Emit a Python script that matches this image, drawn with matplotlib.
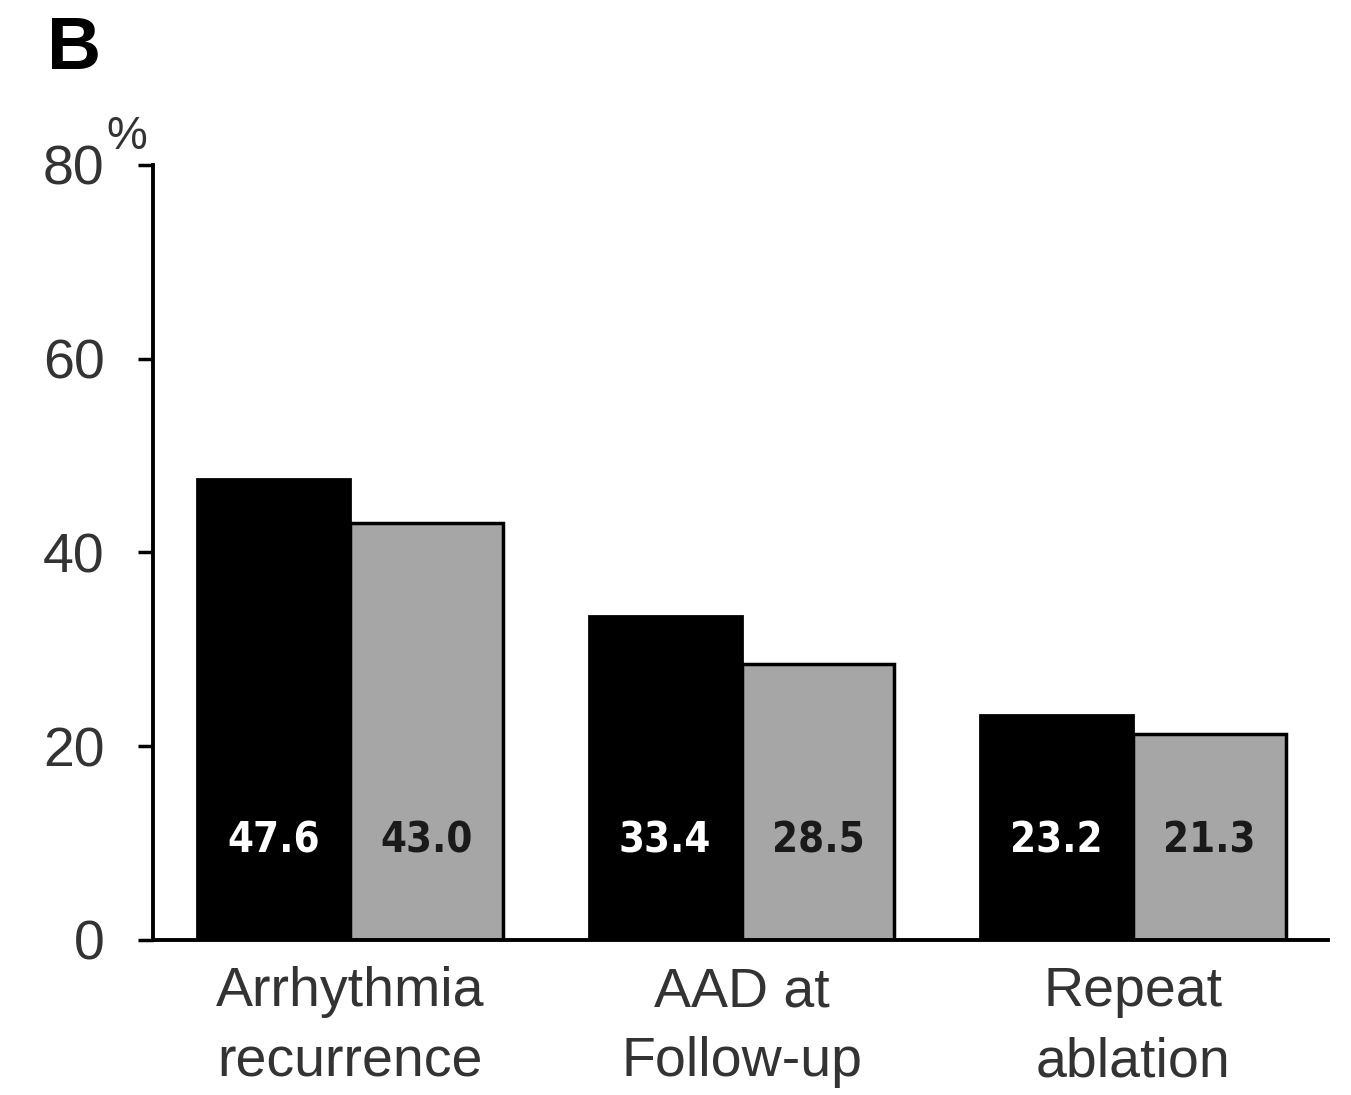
import numpy as np
import matplotlib.pyplot as plt

categories = ["Arrhythmia\nrecurrence", "AAD at\nFollow-up", "Repeat\nablation"]
group_a = [47.6, 33.4, 23.2]
group_b = [43.0, 28.5, 21.3]
yticks = [0, 20, 40, 60, 80]

plt.rcParams['font.family'] = ['Liberation Sans', 'DejaVu Sans']

fig = plt.figure(figsize=(13.51, 10.95), dpi=100)
ax = fig.add_axes([0.1133, 0.1416, 0.8697, 0.7078])

x = np.arange(len(categories))
w = 0.39
bars_a = ax.bar(x - w / 2, group_a, w, color="black", edgecolor="black", linewidth=2)
bars_b = ax.bar(x + w / 2, group_b, w, color="#a6a6a6", edgecolor="black", linewidth=2.5)

# narrow bold numbers inside the bars
val_font = dict(family='DejaVu Sans', fontstretch='condensed', fontweight='bold',
                fontsize=30, ha='center', va='center')
for b, v in zip(bars_a, group_a):
    ax.text(b.get_x() + b.get_width() / 2, 10.3, f"{v:.1f}", color="white", **val_font)
for b, v in zip(bars_b, group_b):
    ax.text(b.get_x() + b.get_width() / 2, 10.3, f"{v:.1f}", color="#1a1a1a", **val_font)

ax.set_xlim(-0.503, 2.498)
ax.set_ylim(0, 80)
ax.set_yticks(yticks)
ax.set_yticklabels([str(t) for t in yticks], fontsize=40, color="#333333")
ax.set_xticks(x)
ax.set_xticklabels(categories, fontsize=40, color="#333333", linespacing=1.45)
ax.tick_params(axis='y', length=11, width=2.5, pad=24)
ax.tick_params(axis='x', length=0, pad=19)

for s in ["top", "right"]:
    ax.spines[s].set_visible(False)
ax.spines["left"].set_linewidth(2.8)
ax.spines["bottom"].set_linewidth(2.8)

fig.text(0.079, 0.864, "%", fontsize=33, color="#333333")
fig.text(0.035, 0.937, "B", fontsize=54, fontweight="bold", color="black")

fig.savefig("out.png", dpi=100)
